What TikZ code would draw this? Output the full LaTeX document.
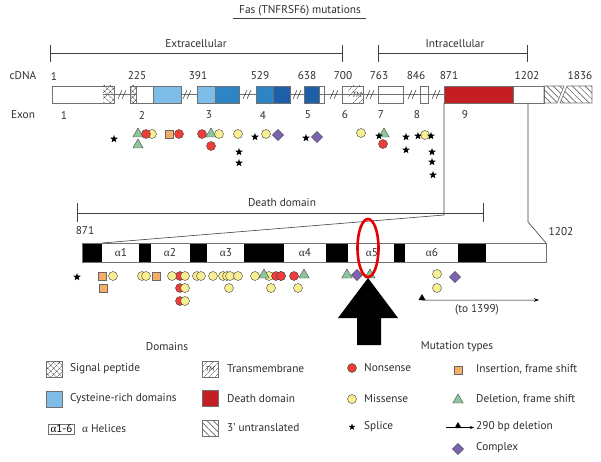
\documentclass[tikz,border=0pt]{standalone}
\usepackage{fontspec}
\setmainfont{PT Sans}
\newfontfamily\grk{Liberation Serif}
\usetikzlibrary{shapes.geometric,patterns.meta,arrows.meta}
\definecolor{lb}{HTML}{7EBDE8}
\definecolor{mb}{HTML}{2F84C6}
\definecolor{db}{HTML}{1E5FAA}
\definecolor{ddred}{HTML}{C41E24}
\definecolor{nred}{HTML}{EE3E3A}
\definecolor{myel}{HTML}{F8EE92}
\definecolor{ors}{HTML}{F4AE66}
\definecolor{grt}{HTML}{8CC79B}
\definecolor{pud}{HTML}{7B62AE}
\definecolor{gl}{HTML}{707070}
\newcommand{\alp}{{\grk α}}
\tikzset{
  txt/.style={inner sep=0pt,font=\fontsize{11.3}{13}\selectfont,text=black!82},
  ebox/.style={draw=gl,line width=0.6pt},
  xhatch/.style={pattern={Hatch[angle=45,distance=4pt,line width=0.4pt]},pattern color=black!75},
  nehatch/.style={pattern={Lines[angle=45,distance=4pt,line width=0.4pt]},pattern color=black!75},
  nwhatch/.style={pattern={Lines[angle=-45,distance=4.5pt,line width=0.5pt]},pattern color=black!75},
  rc/.style={circle,draw=black!75,fill=nred,minimum size=9pt,inner sep=0pt,line width=0.4pt},
  yc/.style={circle,draw=black!75,fill=myel,minimum size=9pt,inner sep=0pt,line width=0.4pt},
  osq/.style={rectangle,draw=black!60,fill=ors,minimum size=8.5pt,inner sep=0pt,line width=0.4pt},
  gtr/.style={regular polygon,regular polygon sides=3,draw=black!70,fill=grt,minimum size=12pt,inner sep=0pt,line width=0.4pt},
  pdi/.style={diamond,draw=black!70,fill=pud,minimum size=11.5pt,inner sep=0pt,line width=0.4pt},
  spl/.style={star,star points=5,star point ratio=2.4,fill=black,minimum size=8pt,inner sep=0pt},
  brk/.style={line width=0.5pt,draw=black!80},
  thin/.style={line width=0.6pt,draw=black!75}
}
\begin{document}
\begin{tikzpicture}[x=1pt,y=-1pt]
\useasboundingbox (0,0) rectangle (601,462);
% title
\node[txt] (title) at (300,11) {Fas (TNFRSF6) mutations};
\draw[thin] (233,18) -- (366,18);
% brackets
\draw[thin] (50,45) -- (50,62) (50,53) -- (342,53) (342,45) -- (342,62);
\node[txt] (extra) at (196,44) {Extracellular};
\draw[thin] (378,45) -- (378,62) (378,53) -- (527,53) (527,45) -- (527,62);
\node[txt] (intra) at (455,44) {Intracellular};
% cDNA numbers
\node[txt] (cdna) at (23,76) {cDNA};
\foreach \x/\t [count=\i] in {54/1,137/225,198/391,260/529,307/638,343/700,379/763,416/846,449/871,527/1202,580/1836}
  \node[txt] (n\i) at (\x,76) {\t};
% exon numbers
\node[txt] (exon) at (23,115) {Exon};
\foreach \x/\t [count=\i] in {64/1,142/2,209/3,263/4,308/5,345/6,381/7,417/8,465/9}
  \node[txt] (e\i) at (\x,115) {\t};
% bar pieces
\fill[white] (52,86) rectangle (103,103);
\fill[xhatch] (103,86) rectangle (114,103);
\draw[ebox] (52,86) rectangle (114,103);
\fill[xhatch] (130,86) rectangle (136,103);
\fill[lb] (153,86) rectangle (181,103);
\draw[ebox] (130,86) rectangle (181,103);
\draw[ebox] (136,86) -- (136,103);
\draw[ebox] (153,86) -- (153,103);
\fill[lb] (197,86) rectangle (215,103);
\fill[mb] (215,86) rectangle (239,103);
\draw[ebox] (197,86) rectangle (239,103) (215,86) -- (215,103);
\fill[mb] (256,86) rectangle (273,103);
\fill[db] (273,86) rectangle (290,103);
\draw[ebox] (256,86) rectangle (290,103) (273,86) -- (273,103);
\fill[db] (304,86) rectangle (319,103);
\draw[ebox] (304,86) rectangle (324,103) (319,86) -- (319,103);
\fill[nehatch] (348,86) rectangle (363,103);
\draw[ebox] (342,86) rectangle (363,103);
\node[txt,font=\fontsize{7.5}{8}\selectfont\itshape] (tm) at (357,94.5) {TM};
\draw[ebox] (378,86) rectangle (403,103);
\draw[ebox] (420,86) rectangle (428,103);
\fill[ddred] (444,86) rectangle (513,103);
\draw[ebox] (444,86) rectangle (544,103) (513,86) -- (513,103);
\fill[nwhatch] (544,86) -- (564,86) -- (557,103) -- (544,103) -- cycle;
\draw[ebox] (544,86) -- (564,86) -- (557,103) -- (544,103) -- cycle;
\fill[nwhatch] (567,86) -- (592,86) -- (592,103) -- (560,103) -- cycle;
\draw[ebox] (567,86) -- (592,86) -- (592,103) -- (560,103) -- cycle;
% backbone line
\draw[ebox] (103,94.5) -- (136,94.5) (181,94.5) -- (197,94.5) (239,94.5) -- (256,94.5) (290,94.5) -- (304,94.5) (319,94.5) -- (444,94.5);
% breaks
\foreach \x in {122,187,247,297,334,370,412,436}
  \draw[brk] (\x-4,99) -- (\x,90) (\x,99) -- (\x+4,90);
% zoom lines
\draw[thin] (444,103) -- (444,215) -- (102,243);
\draw[thin] (528,103) -- (528,222) -- (546,243);
% death domain bracket
\draw[thin] (77,203) -- (77,222) (77,213) -- (483,213) (483,203) -- (483,222);
\node[txt] (dd) at (282,203) {Death domain};
\node[txt] (d871) at (85,231) {871};
\node[txt] (d1202) at (561,232) {1202};
% death domain bar
\draw[ebox,fill=white] (82,243) rectangle (546,262);
\foreach \a/\b in {82/102,139/151,190/207,244/284,326/348,394/405,458/486}
  \fill[black] (\a,243) rectangle (\b,262);
\draw[ebox] (82,243) rectangle (546,262);
\foreach \x/\t [count=\i] in {121/1,170/2,226/3,305/4,372/5,432/6}
  \node[txt] (h\i) at (\x,252.5) {\alp\t};
% top markers
\foreach \x/\y [count=\i] in {138/134,138/145,211/134,384/134}
  \node[gtr] (tt\i) at (\x,\y) {};
\foreach \x/\y [count=\i] in {152/134,219/134,238/134,266/134,361/133,425/135}
  \node[yc] (ty\i) at (\x,\y) {};
\foreach \x/\y [count=\i] in {146/134,179/134,202/134,211/146,383/144}
  \node[rc] (tr\i) at (\x,\y) {};
\node[osq] (to1) at (169,134) {};
\foreach \x/\y [count=\i] in {278/135,317/137}
  \node[pdi] (td\i) at (\x,\y) {};
\foreach \x/\y [count=\i] in {114/139,239/152,239/163,255/137,306/138,379/136,406/137,406/150,418/136,431/136,432/152,432/162,433/175}
  \node[spl] (ts\i) at (\x,\y) {};
% death domain markers
\node[spl] (bs1) at (77,277) {};
\foreach \x/\y [count=\i] in {180/276,281/276,294/276,180/288,180/301}
  \node[rc] (br\i) at (\x,\y) {};
\foreach \x/\y [count=\i] in {113/276,142/276,146/276,172/276,185/276,197/276,201/276,213/276,223/276,227/276,230/276,238/276,255/276,269/276,185/288,229/288,271/288,298/288,185/301,437/274,437/288}
  \node[yc] (by\i) at (\x,\y) {};
\node[rc] (br6) at (276,276) {};
\node[rc] (br7) at (281,276) {};
\foreach \x/\y [count=\i] in {102/276,156/276,103/288}
  \node[osq] (bo\i) at (\x,\y) {};
\foreach \x/\y [count=\i] in {264/275,304/275,347/275,370/275}
  \node[gtr] (bt\i) at (\x,\y) {};
\foreach \x/\y [count=\i] in {357/275,455/277}
  \node[pdi] (bd\i) at (\x,\y) {};
% 290 bp deletion
\node[regular polygon,regular polygon sides=3,fill=black,minimum size=8pt,inner sep=0pt] (del) at (422,298) {};
\coordinate (delend) at (539,300);
\draw[line width=0.5pt,-{Stealth[length=5pt,width=3.5pt]}] (del.south) -- (delend);
\node[txt] (to1399) at (477,310) {(to 1399)};
% red ellipse and arrow
\draw[color=red!90!black,line width=2.6pt] (368,248) ellipse [x radius=10.5, y radius=29];
\fill[black] (381,345) -- (381,318) -- (398,318) -- (368,278) -- (338,318) -- (357,318) -- (357,345) -- cycle;
% legend: domains
\node[txt] (ldom) at (167,347) {Domains};
\fill[white] (46,361) rectangle (62,377);
\fill[xhatch] (46,361) rectangle (62,377);
\draw[ebox] (46,361) rectangle (62,377);
\node[txt,anchor=west] (lsig) at (70,369) {Signal peptide};
\fill[lb] (46,391) rectangle (62,407);
\draw[ebox] (46,391) rectangle (62,407);
\node[txt,anchor=west] (lcys) at (70,399) {Cysteine-rich domains};
\node[draw=gl,line width=0.6pt,inner xsep=2pt,inner ysep=1.2pt,font=\fontsize{11}{12}\selectfont] (lhel) at (61.5,429) {\alp1-6};
\node[txt,anchor=west] (lhelt) at (82,429) {\alp\ Helices};
\fill[nehatch] (202,361) rectangle (218,377);
\draw[ebox] (202,361) rectangle (218,377);
\node[txt,font=\fontsize{7}{8}\selectfont\itshape] (ltm) at (210,369.5) {TM};
\node[txt,anchor=west] (ltmt) at (227,369) {Transmembrane};
\fill[ddred] (202,390) rectangle (218,406);
\draw[ebox] (202,390) rectangle (218,406);
\node[txt,anchor=west] (lddt) at (227,399) {Death domain};
\fill[nwhatch] (202,420) rectangle (218,436);
\draw[ebox] (202,420) rectangle (218,436);
\node[txt,anchor=west] (lutr) at (227,428) {3’ untranslated};
% legend: mutation types
\node[txt] (lmut) at (457,347) {Mutation types};
\node[rc] (lrc) at (352,368) {};
\node[txt,anchor=west] (lrct) at (364,368) {Nonsense};
\node[yc] (lyc) at (352,399) {};
\node[txt,anchor=west] (lyct) at (364,399) {Missense};
\node[spl,minimum size=7pt] (lsp) at (352,427) {};
\node[txt,anchor=west] (lspt) at (364,427) {Splice};
\node[osq] (los) at (458,370) {};
\node[txt,anchor=west] (lost) at (476,369) {Insertion, frame shift};
\node[gtr] (lgt) at (458,400) {};
\node[txt,anchor=west] (lgtt) at (476,399) {Deletion, frame shift};
\node[regular polygon,regular polygon sides=3,fill=black,minimum size=8pt,inner sep=0pt] (ldel) at (458,426) {};
\coordinate (ldelL) at (446,427.5);
\coordinate (ldelR) at (474,427.5);
\draw[line width=0.5pt,-{Stealth[length=4pt,width=3pt]}] (ldelL) -- (ldelR);
\node[txt,anchor=west] (ldelt) at (476,427) {290 bp deletion};
\node[pdi] (lpd) at (458,449) {};
\node[txt,anchor=west] (lpdt) at (476,448) {Complex};
\end{tikzpicture}
\end{document}
